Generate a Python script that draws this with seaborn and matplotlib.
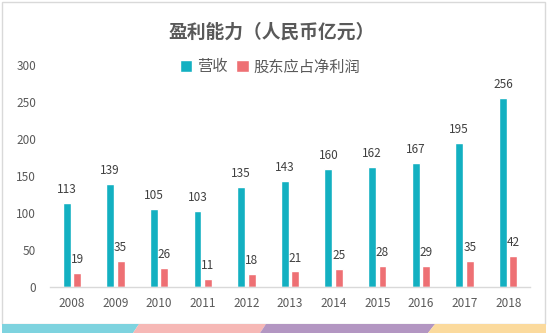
import matplotlib
matplotlib.use("Agg")
import matplotlib.pyplot as plt
import seaborn as sns
import pandas as pd
from matplotlib.patches import Polygon, Rectangle

years = ["2008", "2009", "2010", "2011", "2012", "2013", "2014", "2015", "2016", "2017", "2018"]
revenue = [113, 139, 105, 103, 135, 143, 160, 162, 167, 195, 256]
profit = [19, 35, 26, 11, 18, 21, 25, 28, 29, 35, 42]
series_names = ["营收", "股东应占净利润"]
yticks = [0, 50, 100, 150, 200, 250, 300]
title = "盈利能力（人民币亿元）"

sns.set_theme(style="white")
plt.rcParams['font.family'] = ['Noto Sans CJK SC', 'DejaVu Sans']

df = pd.DataFrame({
    "year": years * 2,
    "value": revenue + profit,
    "series": [series_names[0]] * len(years) + [series_names[1]] * len(years),
})

W, H = 548, 334
fig = plt.figure(figsize=(W / 100, H / 100), dpi=100)
ax = fig.add_axes([50 / W, (H - 287) / H, (530 - 50) / W, (287 - 65) / H])

palette = {series_names[0]: "#13B0C1", series_names[1]: "#EE7074"}
sns.barplot(data=df, x="year", y="value", hue="series", palette=palette,
            width=0.48, gap=0.25, ax=ax, saturation=1, legend=True, errorbar=None)

ax.set_xlim(-0.5, len(years) - 0.5)
ax.set_ylim(0, 300)
ax.set_yticks(yticks)
ax.set_xlabel("")
ax.set_ylabel("")
for s in ["top", "right", "left"]:
    ax.spines[s].set_visible(False)
ax.spines["bottom"].set_color("#D9D9D9")
ax.spines["bottom"].set_linewidth(1)
ax.tick_params(axis="both", length=0, labelsize=8.5, labelcolor="#595959")
ax.tick_params(axis="x", pad=7)
ax.tick_params(axis="y", pad=10)

for container in ax.containers:
    ax.bar_label(container, fmt="%d", padding=5, fontsize=8.5, color="#404040")

handles, labels = ax.get_legend_handles_labels()
ax.get_legend().remove()
fig.legend(handles, labels, loc="center", bbox_to_anchor=(270 / W, (H - 67) / H),
           ncol=2, frameon=False, fontsize=11, handlelength=0.8, handleheight=0.8,
           handletextpad=0.3, columnspacing=0.6, labelcolor="#595959")

fig.text(272 / W, (H - 32) / H, title, ha="center", va="center",
         fontsize=13.5, fontweight="bold", color="#595959")

# border
fig.patches.append(Rectangle((2 / W, (H - 324) / H), (545 - 2) / W, (324 - 2) / H,
                             transform=fig.transFigure, fill=False,
                             edgecolor="#D9D9D9", linewidth=1))

# bottom colour strip
y0, y1 = (H - 333) / H, (H - 324) / H
segs = [(2, 133, 139, "#7ED3DF"), (133, 260, 266, "#F6B8B6"),
        (260, 428, 435, "#B396C2"), (428, 546, 546, "#FBDA9D")]
prev_b, prev_t = 2, 2
for start, end_b, end_t, col in segs:
    pts = [(prev_b / W, y0), (end_b / W, y0), (end_t / W, y1), (prev_t / W, y1)]
    fig.patches.append(Polygon(pts, closed=True, transform=fig.transFigure,
                               facecolor=col, edgecolor="none"))
    prev_b, prev_t = end_b, end_t

fig.savefig("out.png", dpi=100)
